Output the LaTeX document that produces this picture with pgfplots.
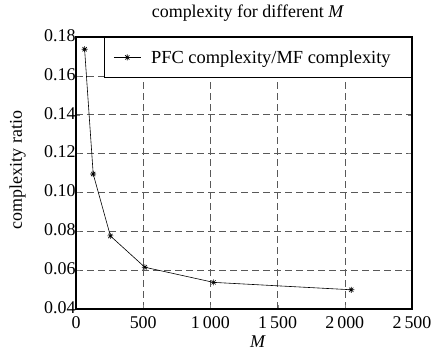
\documentclass[border=0pt]{standalone}
\usepackage{pgfplots}
\pgfplotsset{compat=1.18}
\usepackage{fontspec}
\setmainfont{Liberation Serif}
\pgfdeclareplotmark{mstar}{%
  \pgfpathmoveto{\pgfqpoint{-\pgfplotmarksize}{0pt}}\pgfpathlineto{\pgfqpoint{\pgfplotmarksize}{0pt}}%
  \pgfpathmoveto{\pgfqpoint{0pt}{-\pgfplotmarksize}}\pgfpathlineto{\pgfqpoint{0pt}{\pgfplotmarksize}}%
  \pgfpathmoveto{\pgfqpoint{-0.707\pgfplotmarksize}{-0.707\pgfplotmarksize}}\pgfpathlineto{\pgfqpoint{0.707\pgfplotmarksize}{0.707\pgfplotmarksize}}%
  \pgfpathmoveto{\pgfqpoint{-0.707\pgfplotmarksize}{0.707\pgfplotmarksize}}\pgfpathlineto{\pgfqpoint{0.707\pgfplotmarksize}{-0.707\pgfplotmarksize}}%
  \pgfusepathqstroke}
\begin{document}
\begin{tikzpicture}
\begin{axis}[
  scale only axis,
  width=336bp, height=272bp,
  xmin=0, xmax=2500, ymin=0.04, ymax=0.18,
  xtick={0,500,1000,1500,2000,2500},
  ytick={0.04,0.06,0.08,0.10,0.12,0.14,0.16,0.18},
  /pgf/number format/assume math mode=true,
  xticklabel style={/pgf/number format/1000 sep={\,}, anchor=base, yshift=-19bp, inner ysep=0pt},
  yticklabel style={/pgf/number format/fixed, /pgf/number format/fixed zerofill, /pgf/number format/precision=2, xshift=3bp, yshift=1.5bp, inner ysep=0pt},
  scaled y ticks=false,
  tick label style={font=\fontsize{18}{20}\selectfont},
  tick align=inside,
  major tick length=4bp,
  axis line style={line width=1.2pt},
  grid=major,
  major grid style={gray!70!black, line width=0.6pt, dash pattern=on 7bp off 4bp},
  title={complexity for different \textit{M}},
  title style={font=\fontsize{18}{20}\selectfont, at={(axis description cs:0.5,1)}, anchor=base, yshift=14bp, xshift=4bp},
  xlabel={\textit{M}},
  ylabel={complexity ratio},
  label style={font=\fontsize{18}{20}\selectfont},
  xlabel style={at={(axis description cs:0.5,0)}, anchor=base, yshift=-38bp, xshift=14bp},
  ylabel style={at={(axis description cs:0,0.5)}, anchor=center, yshift=58.5bp, xshift=3bp},
  legend style={at={(1,1)}, anchor=north east, draw=black, line width=0.6pt, fill=white,
    font=\fontsize{18.5}{20}\selectfont, inner xsep=9bp, inner ysep=10bp, nodes={inner sep=3bp}},
  legend cell align=left,
  legend image code/.code={\draw[mark repeat=2,mark phase=2,#1] plot coordinates {(0bp,0bp) (13.5bp,0bp) (27bp,0bp)};},
]
\addplot[black, line width=0.6pt, mark=mstar, mark size=3bp, mark options={line width=0.6pt, solid}]
  coordinates {(64,0.1737) (128,0.1095) (256,0.0776) (512,0.0615) (1024,0.0537) (2048,0.0499)};
\addlegendentry{\hspace*{7bp}PFC complexity/MF complexity\hspace*{9bp}}
\end{axis}
\path ([xshift=-76bp,yshift=-42bp]current axis.south west) rectangle ([xshift=25bp,yshift=37bp]current axis.north east);
\end{tikzpicture}
\end{document}
